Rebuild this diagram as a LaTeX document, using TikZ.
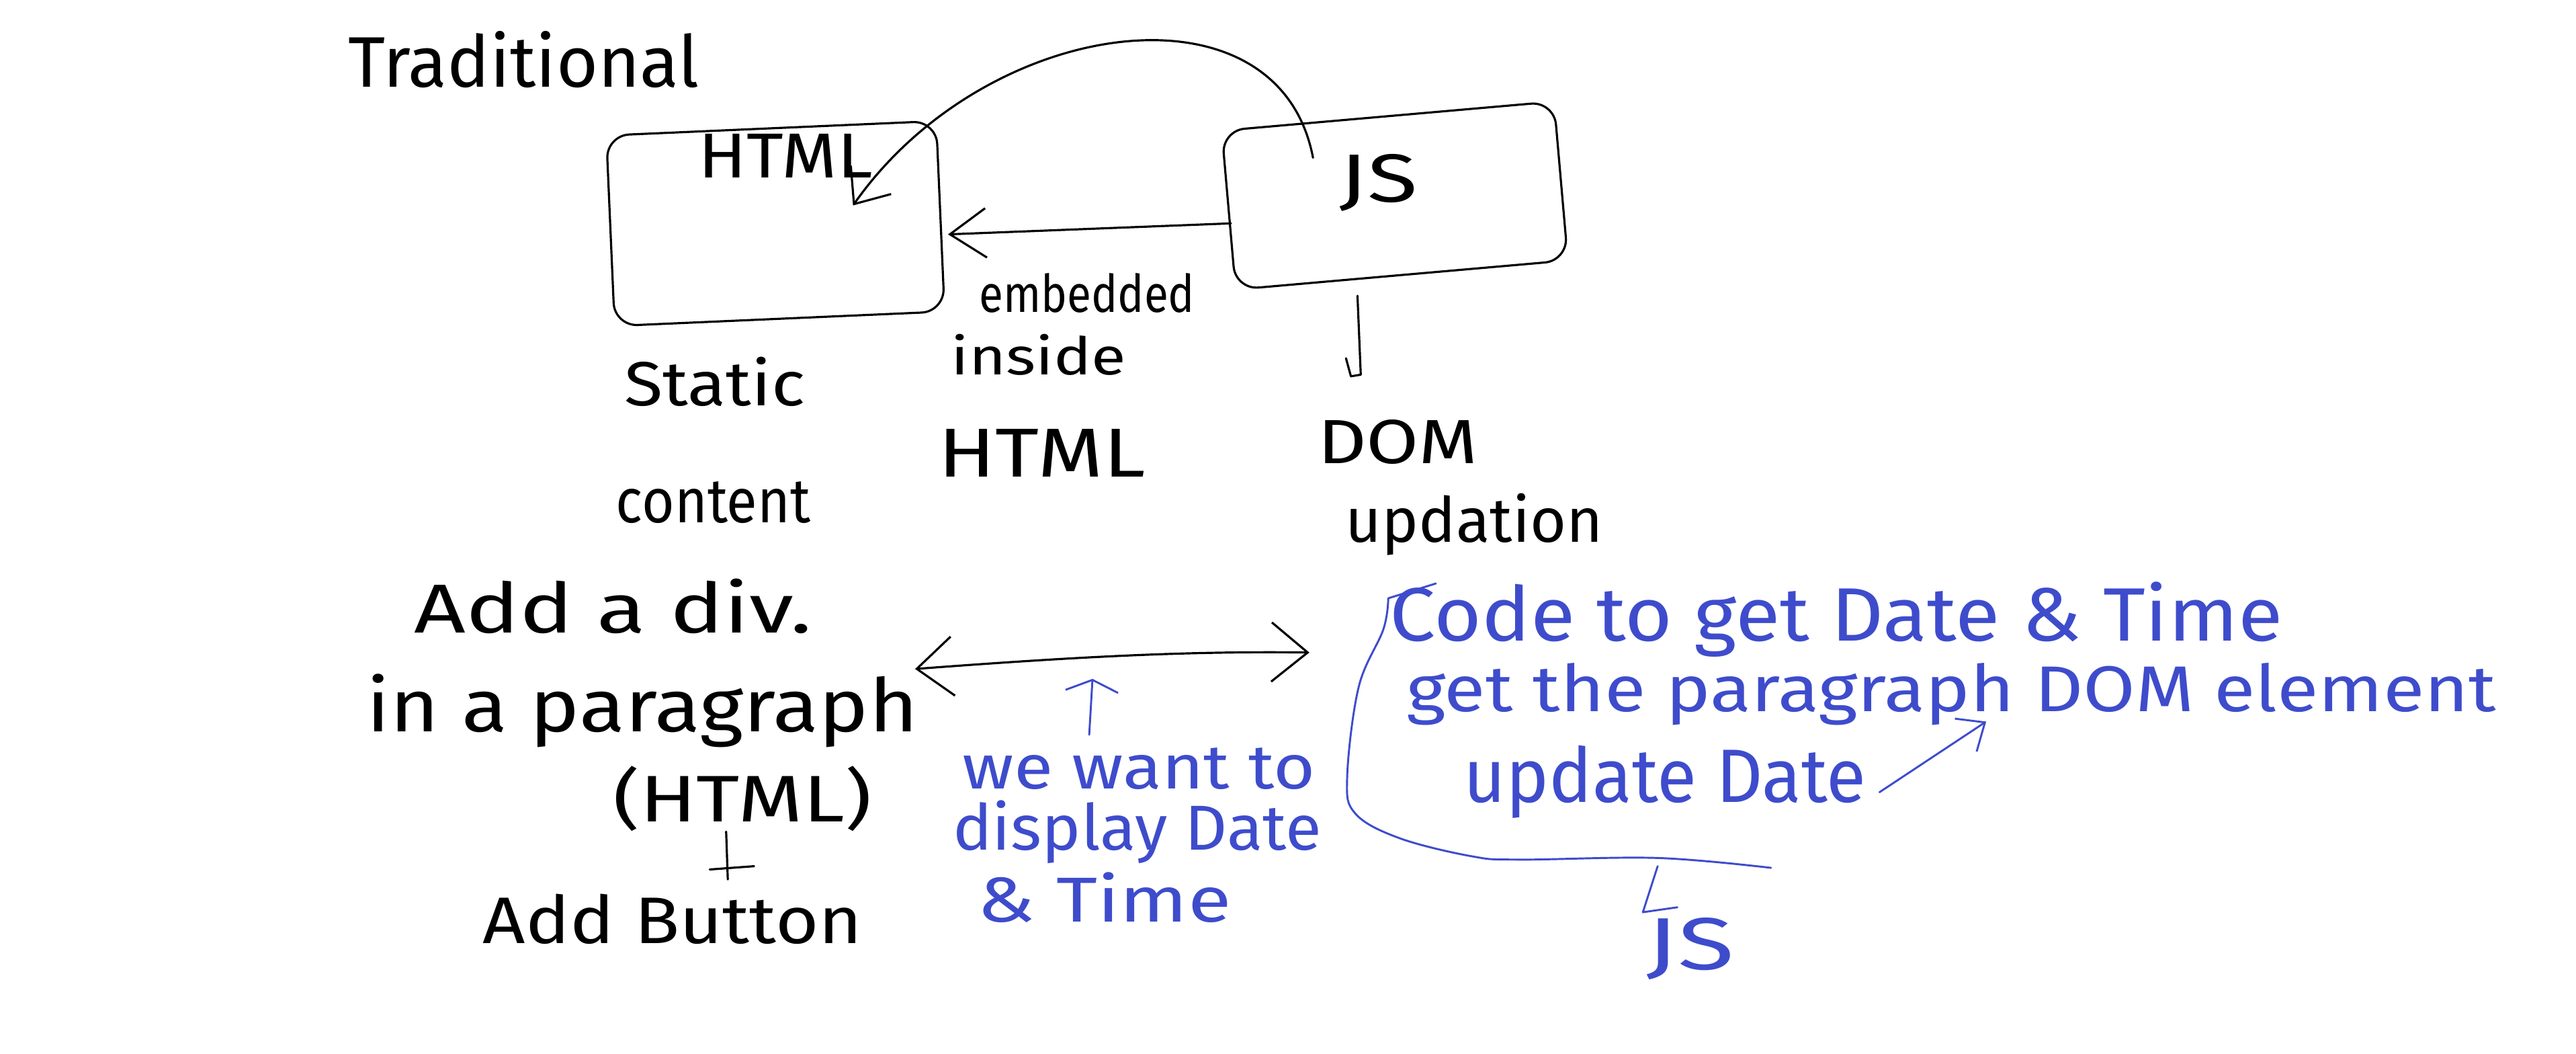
\documentclass[tikz,border=0pt]{standalone}
\usepackage{graphicx}
\usepackage{fontspec}
\setmainfont{Fira Sans}
\usetikzlibrary{arrows.meta,calc}
\definecolor{pen}{RGB}{62,76,204}
\newcommand{\hsz}[1]{\fontsize{#1}{#1}\selectfont}
\begin{document}
\begin{tikzpicture}[x=1mm,y=-1mm,
  ink/.style={line width=1.3mm,line cap=round,line join=round,draw=black},
  bluepen/.style={line width=1.2mm,line cap=round,line join=round,draw=pen},
  txt/.style={inner sep=0pt,outer sep=0pt,anchor=base west},
  btxt/.style={txt,text=pen},
  box/.style={ink,rounded corners=14mm,inner sep=0pt},
  barb/.style={-{Straight Barb[length=#1,width=30mm]}},
]
\fill[white] (0,0) rectangle (1568,641);
\useasboundingbox (0,0) rectangle (1568,641);

% ---- title ----
\node[txt,font=\hsz{124}] (title) at (212,53) {Traditional};

% ---- the two boxes ----
\node[box,minimum width=201mm,minimum height=116mm,rotate=2.5] (htmlbox) at (472,136) {};
\node[box,minimum width=203mm,minimum height=97mm,rotate=5] (jsbox) at (849,119) {};
\node[txt,font=\hsz{110}] (htmltxt) at (425,108) {\scalebox{1.12}[1]{HTML}};
\node[txt,font=\hsz{118},anchor=base] (jstxt) at (839,123) {\scalebox{1.35}[1]{JS}};

% ---- labels under the boxes ----
\node[txt,font=\hsz{108}] (static) at (380,247) {\scalebox{1.13}[1]{Static}};
\node[txt,font=\hsz{108}] (content) at (375,318) {\scalebox{0.9}[1]{content}};
\node[txt,font=\hsz{90}] (emb) at (596,190) {\scalebox{0.85}[1]{embedded}};
\node[txt,font=\hsz{90}] (inside) at (579,228) {\scalebox{1.22}[1]{inside}};
\node[txt,font=\hsz{120}] (embhtml) at (571,290) {\scalebox{1.22}[1]{HTML}};
\node[txt,font=\hsz{108}] (dom) at (802,282) {\scalebox{1.22}[1]{DOM}};
\node[txt,font=\hsz{108}] (updation) at (819,330) {updation};

% ---- connectors between the boxes ----
\draw[ink,barb=18mm] ($(jstxt.north west)+(-16,2)$) .. controls (778,-15) and (600,10) .. ($(htmltxt.south east)+(-12,17)$);
\draw[ink,barb=22mm] ($(jsbox.west)+(2,8)$) -- ($(htmlbox.east)+(4,11)$);
\draw[ink] ($(jsbox.south)+(-27,12)$) -- ++(2,48) -- ++(-6,1) -- ++(-3,-11);

% ---- second part: the page ----
\node[txt,font=\hsz{120}] (adddiv) at (252,385) {\scalebox{1.3}[1]{Add a div.}};
\node[txt,font=\hsz{128}] (para) at (223,445) {\scalebox{1.14}[1]{in a paragraph}};
\node[txt,font=\hsz{114}] (parahtml) at (373,500) {\scalebox{1.27}[1]{(HTML)}};
\draw[ink] (442,506) -- (443,535);
\draw[ink] (432,529) -- (459,527);
\node[txt,font=\hsz{114}] (button) at (294,574) {\scalebox{1.13}[1]{Add Button}};

\coordinate (dblL) at (557,407);
\coordinate (dblR) at (797,397);
\draw[ink,{Straight Barb[length=22mm,width=36mm]}-{Straight Barb[length=22mm,width=36mm]}]
  (dblL) .. controls (650,400) and (720,396) .. (dblR);

% ---- blue notes ----
\coordinate (upTail) at (663,447);
\coordinate (upTip) at (665,413);
\draw[bluepen,-{Straight Barb[length=7mm,width=32mm]}] (upTail) -- (upTip);
\node[btxt,font=\hsz{108}] (want) at (586,480) {\scalebox{1.15}[1]{we want to}};
\node[btxt,font=\hsz{110}] (display) at (580,517) {\scalebox{1.04}[1]{display Date}};
\node[btxt,font=\hsz{110}] (time) at (595,561) {\scalebox{1.25}[1]{\& Time}};

\draw[bluepen] (874,355) -- (845,364)
  plot[smooth,tension=0.6] coordinates {(845,364) (842,383) (827,418) (820,473) (825,495) (852,510) (896,521) (925,523) (1009,522) (1078,528)};

\node[btxt,font=\hsz{131}] (code1) at (846,390) {\scalebox{1.08}[1]{Code to get Date \& Time}};
\node[btxt,font=\hsz{112}] (code2) at (856,433) {\scalebox{1.17}[1]{get the paragraph DOM element}};
\node[btxt,font=\hsz{131}] (code3) at (891,488) {\scalebox{0.96}[1]{update Date}};
\draw[bluepen,-{Straight Barb[length=14mm,width=24mm]}] ($(code3.base east)+(8,-6)$) -- ($(code2.base west)+(353,6)$);

\coordinate (brk) at (1009,527);
\node[btxt,font=\hsz{128},anchor=base] (js2) at (1029,590) {\scalebox{1.4}[1]{JS}};
\draw[bluepen] (brk) -- (1000,555) -- (1021,552);
\end{tikzpicture}
\end{document}
